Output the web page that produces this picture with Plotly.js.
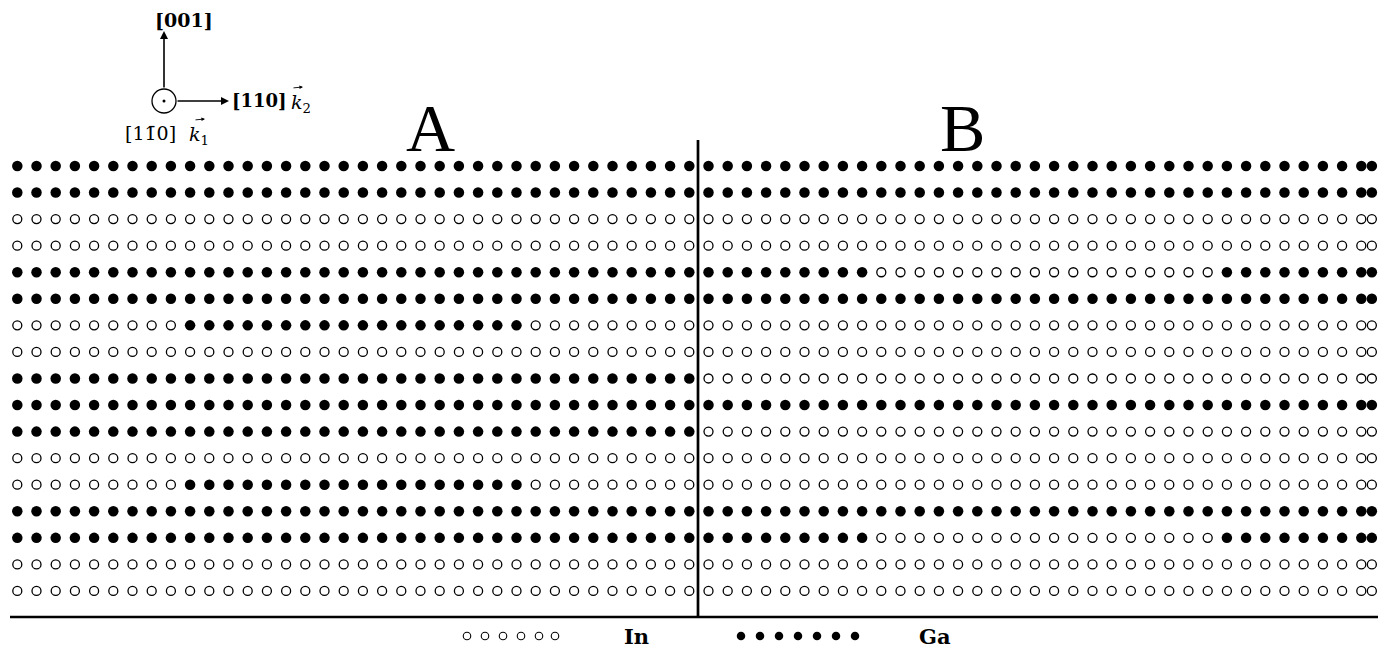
<!DOCTYPE html>
<html>
<head>
<meta charset="utf-8">
<script src="https://cdn.plot.ly/plotly-3.0.1.min.js"></script>
<style>html,body{margin:0;padding:0;background:#fff;}#chart{width:1378px;height:652px;}</style>
</head>
<body>
<div id="chart"></div>
<script>
// G = Ga site (filled), I = In site (open). Panel A: 36 sites per row, panel B: 36 sites (last one is the periodic repeat).
const rowsA = [
  "GGGGGGGGG GGGGGGGGG GGGGGGGGG GGGGGGGGG",
  "GGGGGGGGG GGGGGGGGG GGGGGGGGG GGGGGGGGG",
  "IIIIIIIII IIIIIIIII IIIIIIIII IIIIIIIII",
  "IIIIIIIII IIIIIIIII IIIIIIIII IIIIIIIII",
  "GGGGGGGGG GGGGGGGGG GGGGGGGGG GGGGGGGGG",
  "GGGGGGGGG GGGGGGGGG GGGGGGGGG GGGGGGGGG",
  "IIIIIIIII GGGGGGGGG GGGGGGGGG IIIIIIIII",
  "IIIIIIIII IIIIIIIII IIIIIIIII IIIIIIIII",
  "GGGGGGGGG GGGGGGGGG GGGGGGGGG GGGGGGGGG",
  "GGGGGGGGG GGGGGGGGG GGGGGGGGG GGGGGGGGG",
  "GGGGGGGGG GGGGGGGGG GGGGGGGGG GGGGGGGGG",
  "IIIIIIIII IIIIIIIII IIIIIIIII IIIIIIIII",
  "IIIIIIIII GGGGGGGGG GGGGGGGGG IIIIIIIII",
  "GGGGGGGGG GGGGGGGGG GGGGGGGGG GGGGGGGGG",
  "GGGGGGGGG GGGGGGGGG GGGGGGGGG GGGGGGGGG",
  "IIIIIIIII IIIIIIIII IIIIIIIII IIIIIIIII",
  "IIIIIIIII IIIIIIIII IIIIIIIII IIIIIIIII"
];
const rowsB = [
  "GGGGGGGGG GGGGGGGGG GGGGGGGGG GGGGGGGGG",
  "GGGGGGGGG GGGGGGGGG GGGGGGGGG GGGGGGGGG",
  "IIIIIIIII IIIIIIIII IIIIIIIII IIIIIIIII",
  "IIIIIIIII IIIIIIIII IIIIIIIII IIIIIIIII",
  "GGGGGGGGG IIIIIIIII IIIIIIIII GGGGGGGGG",
  "GGGGGGGGG GGGGGGGGG GGGGGGGGG GGGGGGGGG",
  "IIIIIIIII IIIIIIIII IIIIIIIII IIIIIIIII",
  "IIIIIIIII IIIIIIIII IIIIIIIII IIIIIIIII",
  "IIIIIIIII IIIIIIIII IIIIIIIII IIIIIIIII",
  "GGGGGGGGG GGGGGGGGG GGGGGGGGG GGGGGGGGG",
  "IIIIIIIII IIIIIIIII IIIIIIIII IIIIIIIII",
  "IIIIIIIII IIIIIIIII IIIIIIIII IIIIIIIII",
  "IIIIIIIII IIIIIIIII IIIIIIIII IIIIIIIII",
  "GGGGGGGGG GGGGGGGGG GGGGGGGGG GGGGGGGGG",
  "GGGGGGGGG IIIIIIIII IIIIIIIII GGGGGGGGG",
  "IIIIIIIII IIIIIIIII IIIIIIIII IIIIIIIII",
  "IIIIIIIII IIIIIIIII IIIIIIIII IIIIIIIII"
];
const colsA = [0,1,2,3,4,5,6,7,8,9,10,11,12,13,14,15,16,17,18,19,20,21,22,23,24,25,26,27,28,29,30,31,32,33,34,35];
const colsB = [36,37,38,39,40,41,42,43,44,45,46,47,48,49,50,51,52,53,54,55,56,57,58,59,60,61,62,63,64,65,66,67,68,69,70,70.55];
const rowIdx = [0,1,2,3,4,5,6,7,8,9,10,11,12,13,14,15,16];
const legendInX = [467,485,503,521,539,555];
const legendGaX = [741,760,779,798,817,836,855];
const legendY = 636;

const ga = {x: [], y: []}, inn = {x: [], y: []};
function addPanel(rows, cols) {
  rows.forEach((r, ri) => {
    const s = r.replace(/\s+/g, '');
    for (let k = 0; k < s.length; k++) {
      const tgt = s[k] === 'G' ? ga : inn;
      tgt.x.push(cols[k]); tgt.y.push(rowIdx[ri]);
    }
  });
}
addPanel(rowsA, colsA);
addPanel(rowsB, colsB);

const traces = [
  {type: 'scatter', mode: 'markers', x: ga.x, y: ga.y, xaxis: 'x', yaxis: 'y',
   marker: {symbol: 'circle', size: 10.5, color: '#000', line: {width: 0}}, hoverinfo: 'skip'},
  {type: 'scatter', mode: 'markers', x: inn.x, y: inn.y, xaxis: 'x', yaxis: 'y',
   marker: {symbol: 'circle-open', size: 9, color: '#000', line: {width: 1.3, color: '#000'}}, hoverinfo: 'skip'},
  {type: 'scatter', mode: 'markers', x: legendInX, y: legendInX.map(() => legendY), xaxis: 'x2', yaxis: 'y2',
   marker: {symbol: 'circle-open', size: 7.5, color: '#000', line: {width: 1.1, color: '#000'}}, hoverinfo: 'skip'},
  {type: 'scatter', mode: 'markers', x: legendGaX, y: legendGaX.map(() => legendY), xaxis: 'x2', yaxis: 'y2',
   marker: {symbol: 'circle', size: 8.5, color: '#000'}, hoverinfo: 'skip'}
];

const serif = 'DejaVu Serif';
function txt(x, y, text, size, fam, xanchor) {
  return {xref: 'x2', yref: 'y2', x: x, y: y, text: text, showarrow: false,
          font: {family: fam || serif, size: size, color: '#000'}, xanchor: xanchor || 'center', yanchor: 'middle'};
}
function arrow(x0, y0, x1, y1, w, s) {
  return {xref: 'x2', yref: 'y2', x: x1, y: y1, ax: x0, ay: y0, axref: 'x2', ayref: 'y2', text: '', showarrow: true,
          arrowhead: 2, arrowsize: s, arrowwidth: w, arrowcolor: '#000'};
}
const layout = {
  width: 1378, height: 652,
  margin: {l: 0, r: 0, t: 0, b: 0, pad: 0},
  paper_bgcolor: '#fff', plot_bgcolor: 'rgba(0,0,0,0)',
  showlegend: false,
  xaxis: {range: [-0.901, 70.87], visible: false, fixedrange: true},
  yaxis: {range: [18.298, -6.25], visible: false, fixedrange: true},
  xaxis2: {range: [0, 1378], visible: false, overlaying: 'x', fixedrange: true},
  yaxis2: {range: [652, 0], visible: false, overlaying: 'y', fixedrange: true},
  shapes: [
    {type: 'line', xref: 'x2', yref: 'y2', x0: 698, x1: 698, y0: 140, y1: 618, line: {color: '#000', width: 2.7}},
    {type: 'line', xref: 'x2', yref: 'y2', x0: 10, x1: 1378, y0: 617, y1: 617, line: {color: '#000', width: 2.3}},
    {type: 'circle', xref: 'x2', yref: 'y2', x0: 152, x1: 176, y0: 89, y1: 113, line: {color: '#000', width: 1.3}},
    {type: 'circle', xref: 'x2', yref: 'y2', x0: 162.5, x1: 165.5, y0: 99.5, y1: 102.5, fillcolor: '#000', line: {color: '#000', width: 0}}
  ],
  annotations: [
    arrow(164, 89, 164, 31, 1.6, 1),
    arrow(176, 101, 229, 101, 1.6, 1),
    arrow(292, 88, 303, 87, 0.9, 0.8),
    arrow(194, 120, 205, 119, 0.9, 0.8),
    txt(184, 20, '<b>[001]</b>', 19),
    txt(230, 100, '<b>[110]</b>', 18, serif, 'left'),
    txt(289, 103, '<i>k</i><sub>2</sub>', 19, serif, 'left'),
    txt(123, 133, '[11\u03040]', 19, serif, 'left'),
    txt(187, 135, '<i>k</i><sub>1</sub>', 19, serif, 'left'),
    txt(430, 128, 'A', 68, 'Liberation Serif'),
    txt(962, 128, 'B', 68, 'Liberation Serif'),
    txt(636, 636, '<b>In</b>', 21),
    txt(935, 636, '<b>Ga</b>', 21)
  ]
};

Plotly.newPlot('chart', traces, layout, {staticPlot: true, displayModeBar: false});
</script>
</body>
</html>
